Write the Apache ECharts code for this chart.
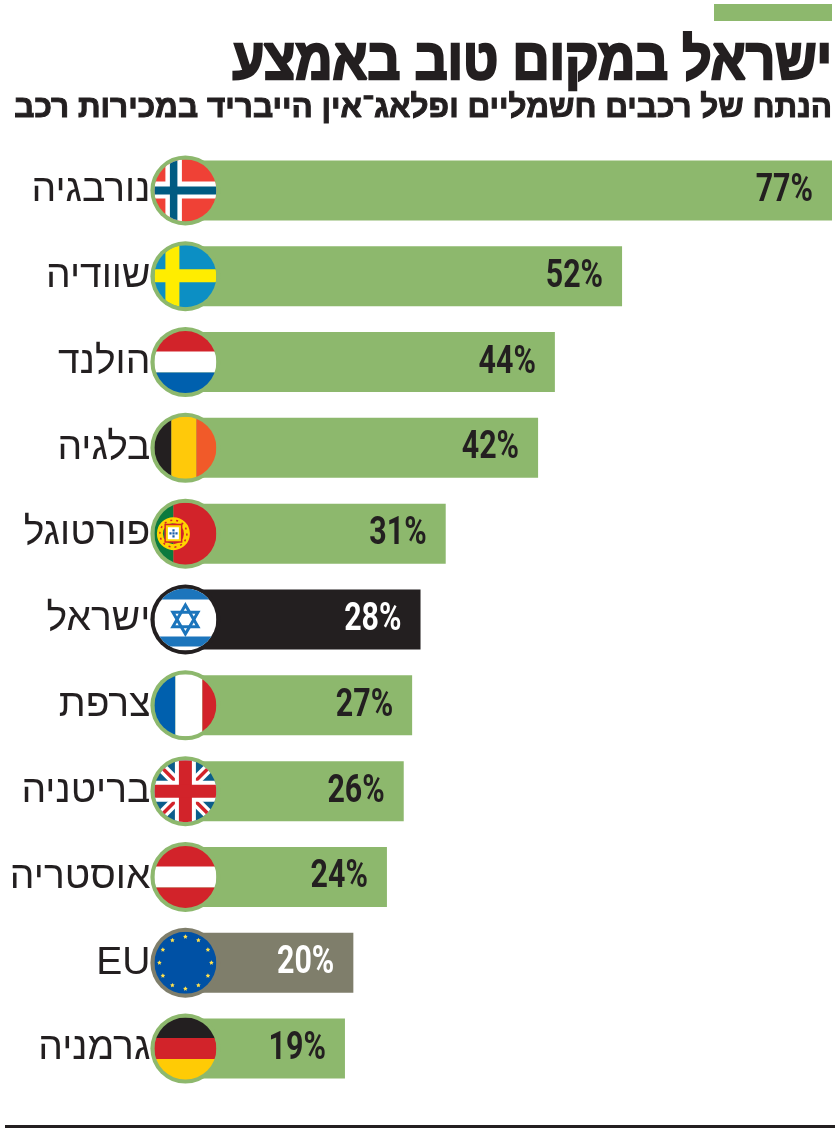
<!DOCTYPE html>
<html><head><meta charset="utf-8">
<style>html,body{margin:0;padding:0;background:#fff}#c{width:839px;height:1133px}</style>
<script src="https://cdn.jsdelivr.net/npm/echarts@6/dist/echarts.min.js"></script>
</head><body><div id="c"></div>
<script>
const titleText = 'ישראל במקום טוב באמצע';
const subtitleText = 'הנתח של רכבים חשמליים ופלאג־אין הייבריד במכירות רכב';
const categories = ['נורבגיה','שוודיה','הולנד','בלגיה','פורטוגל','ישראל','צרפת','בריטניה','אוסטריה','EU','גרמניה'];
const values = [77,52,44,42,31,28,27,26,24,20,19];
const flagCodes = ['no','se','nl','be','pt','il','fr','gb','at','eu','de'];
const GREEN='#8DB86D', BLACK='#231F20', GREY='#7F7E6B';
const barColors = [GREEN,GREEN,GREEN,GREEN,GREEN,BLACK,GREEN,GREEN,GREEN,GREY,GREEN];
const labelColors = [BLACK,BLACK,BLACK,BLACK,BLACK,'#fff',BLACK,BLACK,BLACK,'#fff',BLACK];

const R=31;
const rect=(x,y,w,h,fill)=>({type:'rect',shape:{x,y,width:w,height:h},style:{fill}});
const poly=(pts,fill)=>({type:'polygon',shape:{points:pts},style:{fill}});
const hBands=(a,b,c)=>[rect(-R,-R,2*R,21,a),rect(-R,-10.5,2*R,21,b),rect(-R,10.5,2*R,21,c)];
const star5=(cx,cy,r,fill)=>{const p=[];for(let i=0;i<10;i++){const q=i%2?r*0.5:r,t=-Math.PI/2+i*Math.PI/5;p.push([cx+q*Math.cos(t),cy+q*Math.sin(t)]);}return poly(p,fill);};
const diag=(x1,y1,x2,y2,w,c)=>({type:'line',shape:{x1,y1,x2,y2},style:{stroke:c,lineWidth:w}});
function flagShapes(code){
  const RED='#D2232A',BLUE='#0060AE',RED2='#EF4136';
  switch(code){
    case 'no':return [rect(-R,-R,2*R,2*R,RED2),rect(-20,-R,16.5,2*R,'#fff'),rect(-R,-9,2*R,17,'#fff'),rect(-15.5,-R,7.5,2*R,'#005B82'),rect(-R,-4,2*R,8,'#005B82')];
    case 'se':return [rect(-R,-R,2*R,2*R,'#0C8FC4'),rect(-20,-R,14,2*R,'#FFED00'),rect(-R,-7,2*R,13,'#FFED00')];
    case 'nl':return hBands(RED,'#fff',BLUE);
    case 'be':return [rect(-R,-R,17,2*R,BLACK),rect(-14,-R,25,2*R,'#FFC90A'),rect(11,-R,20,2*R,'#F15A29')];
    case 'pt':{
      const ch=[rect(-R,-R,19,2*R,'#0B7A3E'),rect(-12,-R,43,2*R,RED),
        {type:'circle',shape:{cx:-12,cy:0,r:13.5},style:{fill:'none',stroke:'#FFD400',lineWidth:6}},
        {type:'circle',shape:{cx:-12,cy:0,r:13.5},style:{fill:'none',stroke:RED,lineWidth:1.5,lineDash:[2,4]}},
        rect(-21,-10,18,19,RED),rect(-19.5,-8.5,15,16,'#FFD400'),rect(-17.5,-6.5,11,12,'#fff')];
      [[-12,-3.5],[-15,-.5],[-12,-.5],[-9,-.5],[-12,2.5]].forEach(p=>ch.push(rect(p[0]-1,p[1]-1,2.2,2.2,'#1C5FA8')));
      return ch;
    }
    case 'il':{
      const T=14.5,q=[0,1,2].map(i=>[T*Math.cos(-Math.PI/2+i*2*Math.PI/3),T*Math.sin(-Math.PI/2+i*2*Math.PI/3)]);
      const star=(pts)=>({type:'polygon',shape:{points:pts},style:{fill:'none',stroke:'#1C75BC',lineWidth:3}});
      return [rect(-R,-R,2*R,2*R,'#fff'),rect(-R,-R,2*R,11,'#1C75BC'),rect(-R,17,2*R,10,'#1C75BC'),
        star(q),star(q.map(p=>[-p[0],-p[1]]))];
    }
    case 'fr':return [rect(-R,-R,21,2*R,BLUE),rect(-10,-R,27,2*R,'#fff'),rect(17,-R,14,2*R,RED)];
    case 'gb':return [rect(-R,-R,2*R,2*R,'#0B5D8B'),
      diag(-R,-R,R,R,10,'#fff'),diag(-R,R,R,-R,10,'#fff'),
      diag(-R,-R,R,R,3.5,RED),diag(-R,R,R,-R,3.5,RED),
      rect(-10.5,-R,21,2*R,'#fff'),rect(-R,-10.5,2*R,21,'#fff'),
      rect(-6.5,-R,13,2*R,RED),rect(-R,-6.5,2*R,13,RED)];
    case 'at':return hBands(RED,'#fff',RED);
    case 'eu':{
      const ch=[rect(-R,-R,2*R,2*R,'#0051A5')];
      for(let i=0;i<12;i++){const t=i*Math.PI/6;ch.push(star5(26*Math.cos(t),26*Math.sin(t),2.4,'#FFE14D'));}
      return ch;
    }
    case 'de':return hBands(BLACK,RED,'#FFCB05');
  }
}
function renderFlag(params,api){
  const i=params.dataIndex,c=api.coord([api.value(0),api.value(1)]);
  return {type:'group',x:c[0],y:c[1],children:[
    {type:'circle',shape:{cx:0,cy:0,r:35},style:{fill:barColors[i]}},
    {type:'group',clipPath:{type:'circle',shape:{cx:0,cy:0,r:R}},children:flagShapes(flagCodes[i])}
  ]};
}
function renderValue(params,api){
  const i=params.dataIndex,v=api.value(0),c=api.coord([v,api.value(1)]);
  return {type:'text',x:c[0]-19,y:c[1]+1,scaleX:0.8,style:{text:v+'%',align:'right',verticalAlign:'middle',
    font:'bold 38px Roboto',fill:labelColors[i]}};
}
const chart=echarts.init(document.getElementById('c'),null,{renderer:'canvas'});
chart.setOption({
  animation:false,
  grid:{left:185.4,top:147.5,width:646.6,height:944,containLabel:false},
  xAxis:{type:'value',min:0,max:77,show:false},
  yAxis:{type:'category',inverse:true,data:categories,axisLine:{show:false},axisTick:{show:false},splitLine:{show:false},
    axisLabel:{margin:35,fontFamily:'Liberation Sans',fontSize:39,color:'#231F20',align:'right'}},
  series:[
    {type:'bar',barWidth:60,data:values.map((v,i)=>({value:v,itemStyle:{color:barColors[i]}}))},
    {type:'custom',coordinateSystem:'cartesian2d',clip:false,z:5,renderItem:renderFlag,
      data:categories.map((c,i)=>[0,i]),encode:{x:0,y:1}},
    {type:'custom',coordinateSystem:'cartesian2d',clip:false,z:6,renderItem:renderValue,
      data:values.map((v,i)=>[v,i]),encode:{x:0,y:1}}
  ],
  graphic:[
    {type:'rect',shape:{x:714,y:4,width:118,height:17},style:{fill:GREEN}},
    {type:'text',x:832,y:35,scaleX:0.9,style:{text:titleText,align:'right',verticalAlign:'top',font:'bold 57px "Liberation Sans"',fill:BLACK,stroke:BLACK,lineWidth:2.5}},
    {type:'text',x:832,y:92,scaleX:1,style:{text:subtitleText,align:'right',verticalAlign:'top',font:'bold 31.5px "Liberation Sans"',fill:BLACK,stroke:BLACK,lineWidth:1}},
    {type:'rect',shape:{x:5,y:1125,width:830,height:3},style:{fill:BLACK}}
  ]
});
</script></body></html>
